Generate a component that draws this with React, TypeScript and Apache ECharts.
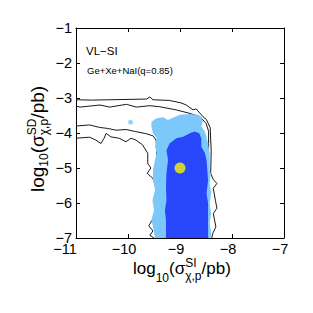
import React, { useEffect, useRef } from "react";
import * as echarts from "echarts";

// ---- data (log10 cross sections) ----
const xTicks = [-11, -10, -9, -8, -7];
const yTicks = [-7, -6, -5, -4, -3, -2, -1];

// outer (95%) contour, upper branch running to the right edge and down
const outerTop: number[][] = [
  [-11, -3.05], [-10.7, -3.06], [-10.35, -3.05], [-10.0, -3.04], [-9.64, -3.03], [-9.58, -2.97],
  [-9.52, -3.05], [-9.2, -3.07], [-8.98, -3.14], [-8.88, -3.2], [-8.75, -3.34], [-8.69, -3.31],
  [-8.56, -3.53], [-8.49, -3.62], [-8.42, -3.85], [-8.4, -4.5], [-8.41, -5.15], [-8.36, -5.33],
  [-8.29, -5.44], [-8.36, -5.58], [-8.32, -5.92], [-8.29, -6.15], [-8.36, -6.3], [-8.31, -6.68],
  [-8.37, -6.87], [-8.39, -7],
];
// outer contour, lower branch
const outerLow: number[][] = [
  [-11, -4.15], [-10.74, -4.12], [-10.62, -4.2], [-10.52, -4.3], [-10.46, -4.15], [-10.42, -4.01],
  [-10.33, -4.11], [-10.17, -4.15], [-10.04, -4.25], [-9.94, -4.15], [-9.85, -4.2], [-9.72, -4.34],
  [-9.62, -4.58], [-9.62, -4.87], [-9.56, -5.0], [-9.63, -5.15], [-9.52, -5.3], [-9.47, -5.5],
  [-9.47, -6.3], [-9.52, -6.45], [-9.6, -6.65], [-9.52, -6.8], [-9.58, -6.92], [-9.5, -7],
];
// inner (68%) contour, upper branch
const innerTop: number[][] = [
  [-11, -3.23], [-10.92, -3.26], [-10.54, -3.2], [-10.35, -3.26], [-10.03, -3.18], [-9.84, -3.26],
  [-9.58, -3.22], [-9.39, -3.25], [-9.07, -3.34], [-8.81, -3.44], [-8.62, -3.53], [-8.5, -3.72],
  [-8.45, -3.95], [-8.45, -4.3], [-8.45, -7],
];
// inner contour, lower branch
const innerLow: number[][] = [
  [-11, -3.8], [-10.74, -3.77], [-10.55, -3.84], [-10.39, -3.87], [-10.23, -3.92], [-10.04, -3.9],
  [-9.85, -3.96], [-9.65, -4.02], [-9.52, -4.08], [-9.46, -4.2], [-9.45, -4.4], [-9.45, -4.8],
  [-9.47, -5.2], [-9.45, -7],
];
// light blue filled region
const region95: number[][] = [
  [-9.55, -3.68], [-9.45, -3.58], [-9.32, -3.55], [-9.23, -3.63], [-9.16, -3.58], [-9.0, -3.48],
  [-8.81, -3.46], [-8.65, -3.48], [-8.59, -3.53], [-8.56, -3.68], [-8.59, -3.82], [-8.52, -3.96],
  [-8.49, -4.11], [-8.46, -4.3], [-8.43, -4.58], [-8.43, -5.06], [-8.41, -5.15], [-8.43, -5.43],
  [-8.4, -5.72], [-8.43, -6.01], [-8.4, -6.29], [-8.43, -6.58], [-8.4, -6.87], [-8.41, -7],
  [-9.48, -7], [-9.52, -6.68], [-9.55, -6.49], [-9.5, -6.21], [-9.53, -5.92], [-9.48, -5.63],
  [-9.52, -5.35], [-9.52, -5.06], [-9.48, -4.77], [-9.45, -4.58], [-9.48, -4.39], [-9.45, -4.15],
  [-9.52, -4.01], [-9.55, -3.82],
];
const island95: number[][] = [[-9.95, -3.69]];
// dark blue filled region
const region68: number[][] = [
  [-9.26, -4.49], [-9.2, -4.3], [-9.07, -4.15], [-8.94, -4.11], [-8.81, -4.01], [-8.72, -3.96],
  [-8.63, -4.01], [-8.59, -4.15], [-8.59, -4.39], [-8.52, -4.58], [-8.49, -4.77], [-8.46, -5.35],
  [-8.49, -5.72], [-8.46, -6.01], [-8.46, -7], [-9.27, -7], [-9.27, -6.49], [-9.29, -6.21],
  [-9.26, -5.92], [-9.27, -5.55], [-9.26, -5.15], [-9.23, -4.77],
];
const benchmark: number[][] = [[-9, -5]];

// ---- styling ----
const FONT = '"Liberation Sans", Arial, Helvetica, sans-serif';
const LIGHT = "#7dc8fa";
const DARK = "#2846fa";
const LINE = "#1a1a1a";

type Part = { t: string; s: number; dy: number };
const xTitleParts: (Part | Part[])[] = [
  { t: "log", s: 17, dy: 0 },
  { t: "10", s: 12, dy: 8 },
  { t: "(σ", s: 17, dy: 0 },
  [{ t: "SI", s: 12, dy: -7 }, { t: "χ,p", s: 12, dy: 6 }],
  { t: "/pb)", s: 17, dy: 0 },
];
const yTitleParts: (Part | Part[])[] = [
  { t: "log", s: 19, dy: 0 },
  { t: "10", s: 12, dy: 4 },
  { t: "(σ", s: 19, dy: 0 },
  [{ t: "SD", s: 12, dy: -8 }, { t: "χ,p", s: 12, dy: 4 }],
  { t: "/pb)", s: 19, dy: 0 },
];

function measure(text: string, size: number): number {
  const c = document.createElement("canvas");
  const ctx = c.getContext("2d");
  if (!ctx) return text.length * size * 0.55;
  ctx.font = `${size}px ${FONT}`;
  return ctx.measureText(text).width;
}

function titleGroup(parts: (Part | Part[])[], x: number, y: number, rotation: number) {
  const children: any[] = [];
  let cx = 0;
  const mk = (p: Part, at: number) => ({
    type: "text",
    x: at,
    y: p.dy - 0.35 * p.s,
    silent: true,
    style: {
      text: p.t,
      font: `${p.s}px ${FONT}`,
      lineHeight: p.s,
      fill: "#000",
      align: "left",
      verticalAlign: "middle",
    },
  });
  for (const part of parts) {
    if (Array.isArray(part)) {
      let w = 0;
      for (const p of part) {
        children.push(mk(p, cx));
        w = Math.max(w, measure(p.t, p.s));
      }
      cx += w;
    } else {
      children.push(mk(part, cx));
      cx += measure(part.t, part.s);
    }
  }
  return { type: "group", x, y, rotation, children };
}

const fmt = (v: number) => (v < 0 ? "\u2212" + Math.abs(v) : String(v));
const fmtX = (v: number) => (v === xTicks[0] ? `{first|${fmt(v)}}` : `{n|${fmt(v)}}`);

function polygonSeries(points: number[][], color: string, z: number) {
  return {
    type: "custom",
    data: points,
    dimensions: ["x", "y"],
    encode: { x: 0, y: 1 },
    z,
    silent: true,
    renderItem: (params: any, api: any) => {
      if (params.dataIndex !== 0) return null;
      return {
        type: "polygon",
        shape: { points: points.map((p) => api.coord(p)) },
        style: { fill: color, stroke: "none" },
      };
    },
  };
}

function lineSeries(points: number[][]) {
  return {
    type: "line",
    data: points,
    showSymbol: false,
    symbol: "none",
    z: 1,
    silent: true,
    lineStyle: { color: LINE, width: 1 },
  };
}

export default function App() {
  const ref = useRef<HTMLDivElement>(null);
  useEffect(() => {
    if (!ref.current) return;
    const chart = echarts.init(ref.current, null, { renderer: "svg", width: 313, height: 313 });
    const axisCommon = {
      type: "value",
      interval: 1,
      splitLine: { show: false },
      axisLine: { show: true, onZero: false, lineStyle: { color: "#000", width: 1 } },
      axisTick: { show: true, inside: true, length: 4, lineStyle: { color: "#000", width: 1 } },
    };
    const xLabelText = { color: "#000", fontSize: 14.5, fontFamily: FONT, lineHeight: 12 };
    chart.setOption({
      animation: false,
      backgroundColor: "#fff",
      grid: { left: 76, right: 29, top: 28, bottom: 75, containLabel: false },
      xAxis: [
        {
          ...axisCommon,
          min: xTicks[0],
          max: xTicks[xTicks.length - 1],
          position: "bottom",
          axisLabel: {
            show: true,
            ...xLabelText,
            margin: 5,
            formatter: fmtX,
            rich: {
              n: { ...xLabelText, padding: [0, 8, 0, 0] },
              first: { ...xLabelText, padding: [0, 22, 0, 0] },
            },
          },
        },
        {
          ...axisCommon,
          min: xTicks[0],
          max: xTicks[xTicks.length - 1],
          position: "top",
          axisLabel: { show: false },
        },
      ],
      yAxis: [
        {
          ...axisCommon,
          min: yTicks[0],
          max: yTicks[yTicks.length - 1],
          position: "left",
          axisLabel: {
            show: true, color: "#000", fontSize: 14.5, fontFamily: FONT, margin: 4, lineHeight: 11, formatter: fmt,
          },
        },
        {
          ...axisCommon,
          min: yTicks[0],
          max: yTicks[yTicks.length - 1],
          position: "right",
          axisLabel: { show: false },
        },
      ],
      graphic: [
        titleGroup(xTitleParts, 133, 274, 0),
        titleGroup(yTitleParts, 44, 192, Math.PI / 2),
        {
          type: "text",
          x: 86,
          y: 51,
          silent: true,
          style: { text: "VL\u2212SI", font: `11.5px ${FONT}`, fill: "#000", align: "left", verticalAlign: "middle" },
        },
        {
          type: "text",
          x: 87,
          y: 70,
          silent: true,
          style: { text: "Ge+Xe+NaI(q=0.85)", font: `9.5px ${FONT}`, fill: "#000", align: "left", verticalAlign: "middle" },
        },
      ],
      series: [
        lineSeries(outerTop),
        lineSeries(outerLow),
        lineSeries(innerTop),
        lineSeries(innerLow),
        polygonSeries(region95, LIGHT, 2),
        {
          type: "scatter",
          data: island95,
          symbolSize: 5,
          z: 2,
          silent: true,
          itemStyle: { color: LIGHT },
        },
        polygonSeries(region68, DARK, 3),
        {
          type: "scatter",
          data: benchmark,
          symbolSize: 11,
          z: 4,
          silent: true,
          itemStyle: { color: "#f8f400" },
        },
      ],
    });
    return () => chart.dispose();
  }, []);
  return <div ref={ref} style={{ position: "absolute", left: 0, top: 0, width: 313, height: 313 }} />;
}
